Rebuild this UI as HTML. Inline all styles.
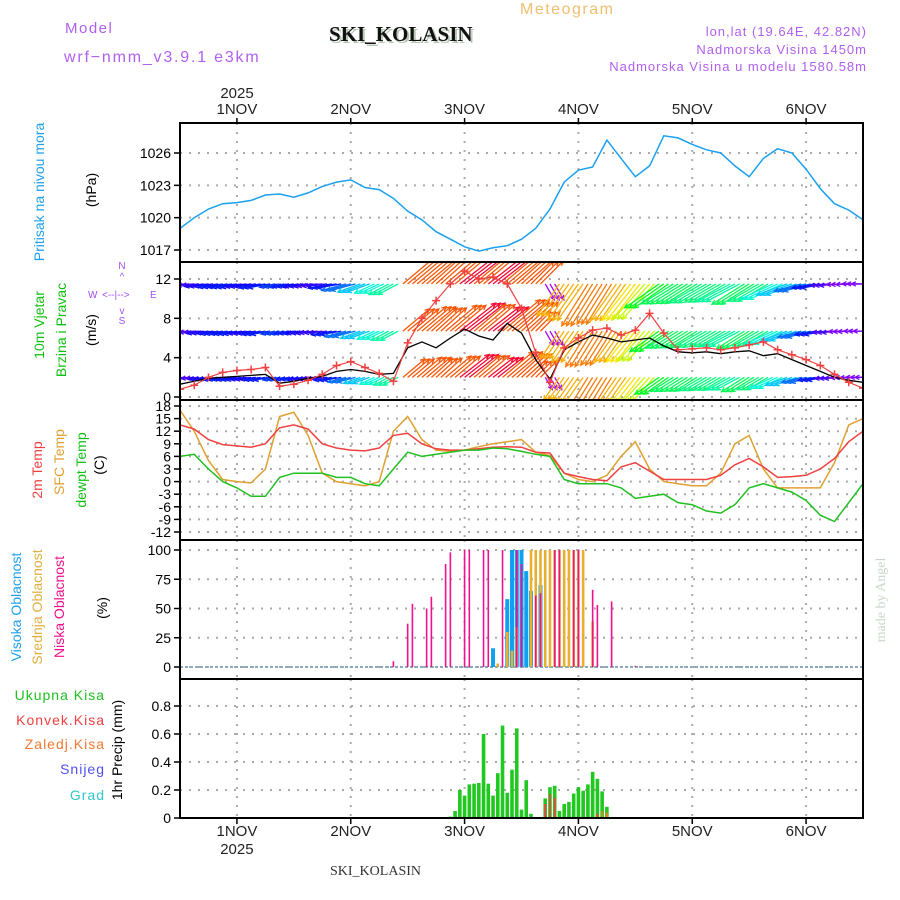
<!DOCTYPE html>
<html><head><meta charset="utf-8"><style>
body{margin:0;background:#fff}
svg{display:block}
text{font-family:"Liberation Sans",sans-serif}
text.serif{font-family:"Liberation Serif",serif}
</style></head><body>
<svg id="chart" width="900" height="900" viewBox="0 0 900 900" xmlns="http://www.w3.org/2000/svg">
<text x="65" y="33" font-size="15" fill="#b060f0" letter-spacing="1.5">Model</text>
<text x="64" y="62" font-size="16" fill="#b060f0" letter-spacing="1.8">wrf−nmm_v3.9.1 e3km</text>
<text class="serif" x="331" y="43" font-size="21" font-weight="bold" fill="#b8c8b8">SKI_KOLASIN</text>
<text class="serif" x="329" y="41" font-size="21" font-weight="bold" fill="#111">SKI_KOLASIN</text>
<text x="520" y="14" font-size="16" fill="#f0c070" letter-spacing="1.5">Meteogram</text>
<text x="867" y="36" font-size="13" fill="#b060f0" text-anchor="end" letter-spacing="1">lon,lat (19.64E, 42.82N)</text>
<text x="867" y="54" font-size="13" fill="#b060f0" text-anchor="end" letter-spacing="1">Nadmorska Visina 1450m</text>
<text x="867" y="71" font-size="13" fill="#b060f0" text-anchor="end" letter-spacing="1">Nadmorska Visina u modelu 1580.58m</text>
<text x="237" y="98" font-size="15" fill="#222" text-anchor="middle">2025</text>
<text class="serif" x="330" y="875" font-size="14" fill="#333">SKI_KOLASIN</text>
<text class="serif" transform="translate(885,600) rotate(-90)" font-size="14" fill="#c8d8c8" text-anchor="middle">made by Angel</text>

<g font-size="14">
<text transform="translate(44,192) rotate(-90)" fill="#20a0f0" text-anchor="middle">Pritisak na nivou mora</text>
<text transform="translate(96,190) rotate(-90)" fill="#000" text-anchor="middle">(hPa)</text>
<text transform="translate(44,325) rotate(-90)" fill="#10c010" text-anchor="middle">10m Vjetar</text>
<text transform="translate(66,330) rotate(-90)" fill="#10c010" text-anchor="middle">Brzina i Pravac</text>
<text transform="translate(96,330) rotate(-90)" fill="#000" text-anchor="middle">(m/s)</text>
<text transform="translate(42,470) rotate(-90)" fill="#f04040" text-anchor="middle">2m Temp</text>
<text transform="translate(64,462) rotate(-90)" fill="#e0a030" text-anchor="middle">SFC Temp</text>
<text transform="translate(86,470) rotate(-90)" fill="#10c010" text-anchor="middle">dewpt Temp</text>
<text transform="translate(104,465) rotate(-90)" fill="#000" text-anchor="middle">(C)</text>
<text transform="translate(21,607) rotate(-90)" fill="#20a0f0" text-anchor="middle">Visoka Oblacnost</text>
<text transform="translate(42,607) rotate(-90)" fill="#e0b040" text-anchor="middle">Srednja Oblacnost</text>
<text transform="translate(64,607) rotate(-90)" fill="#f0108a" text-anchor="middle">Niska Oblacnost</text>
<text transform="translate(107,608) rotate(-90)" fill="#000" text-anchor="middle">(%)</text>
<text x="105" y="700" fill="#20c020" text-anchor="end" letter-spacing="1">Ukupna Kisa</text>
<text x="105" y="725" fill="#f04040" text-anchor="end" letter-spacing="1">Konvek.Kisa</text>
<text x="105" y="749" fill="#f07830" text-anchor="end" letter-spacing="1">Zaledj.Kisa</text>
<text x="105" y="774" fill="#5050f0" text-anchor="end" letter-spacing="1">Snijeg</text>
<text x="105" y="800" fill="#30c8c8" text-anchor="end" letter-spacing="1">Grad</text>
<text transform="translate(122,750) rotate(-90)" fill="#000" text-anchor="middle">1hr Precip (mm)</text>
</g>
<g fill="#a050f0" font-size="10">
<text x="122" y="269" text-anchor="middle">N</text>
<text x="122" y="280" text-anchor="middle">^</text>
<text x="88" y="298">W</text>
<text x="102" y="298">&lt;--|--&gt;</text>
<text x="150" y="298">E</text>
<text x="122" y="314" text-anchor="middle">v</text>
<text x="122" y="324" text-anchor="middle">S</text>
</g>
<g id="plot"></g>
</svg>
<script>
// time axis: hours from 31 Oct 12Z, 3-hourly samples
const stepHours = 3;
const dayLabels = ["1NOV","2NOV","3NOV","4NOV","5NOV","6NOV"];
const pressure = [1019,1020,1020.8,1021.3,1021.4,1021.6,1022.1,1022.2,1021.9,1022.3,1022.9,1023.3,1023.5,1022.8,1022.6,1021.8,1020.6,1019.8,1018.7,1018.0,1017.3,1016.9,1017.2,1017.4,1018.0,1019.0,1020.8,1023.3,1024.4,1024.7,1027.2,1025.5,1023.8,1024.8,1027.6,1027.4,1026.8,1026.3,1026.0,1024.8,1023.8,1025.5,1026.4,1026.0,1024.5,1022.7,1021.3,1020.7,1019.8];
const windSpeed = [1.3,1.6,1.9,2.0,2.1,2.2,2.3,1.4,1.6,1.9,2.1,2.6,2.8,2.6,2.3,2.4,5.0,5.6,5.0,6.0,6.9,6.2,5.8,7.5,6.5,3.8,1.8,4.8,5.6,6.3,6.0,5.6,5.8,6.0,5.2,4.6,4.5,4.6,4.4,4.6,4.7,4.2,4.4,3.8,3.2,2.6,2.0,1.7,1.5];
const windGust = [0.8,1.2,2.0,2.5,2.7,2.8,3.0,1.1,1.3,1.7,2.3,3.2,3.6,3.0,2.4,1.6,5.5,8.0,9.8,11.5,12.8,12.0,12.2,11.5,9.0,4.5,1.5,5.0,6.0,6.8,7.0,6.3,6.8,8.5,6.5,4.8,4.9,5.0,4.8,5.0,5.3,5.6,4.8,4.3,3.8,3.2,2.3,1.5,0.9];
const windDir = [185,185,188,190,190,188,190,192,190,188,186,190,195,200,205,208,40,40,42,40,38,40,38,40,42,45,300,235,235,238,238,235,232,228,215,212,212,210,210,208,212,210,205,200,195,190,185,182,180];
const temp2m = [13.5,12.5,10,8.8,8.5,8.2,9,12.8,13.5,12.5,9,8,7.5,7.3,8,11,11.5,9,7.8,7.5,7.5,7.8,8.2,8.3,8.2,7,6.8,2,1.2,0.5,0.2,3.5,4.5,2.5,0.5,0.5,0.5,0.5,1.5,4,5.5,3.5,1,1.2,1.5,3,5.5,9.5,12];
const tempSfc = [17,12,5,0.5,0,-0.3,3,15.5,16.5,11,2,0,-0.5,-1,0,12,15.5,10,7.5,7.2,7.5,8.3,9,9.5,10,7,6.2,2,0.5,0,1.5,6,9.5,3,0,-0.5,-1,-1,2,9,11,3,-1.5,-1.5,-1.5,-1.5,4.5,13.5,15];
const dewpoint = [6,6.5,3,0,-1.5,-3.5,-3.5,1,2,2,2,1,1,-0.5,-1,3,7,6,6.5,7,7.5,7.5,8,7.8,7.2,6.5,6,0.5,-0.5,-0.5,-0.5,-1.5,-4,-3.5,-3,-5,-5.5,-7,-7.5,-5.5,-1.5,-0.5,-1.5,-2.5,-4.5,-8,-9.5,-5,-0.5];
const lowCloudHours = [45,48,49,52,53,56,57,60,61,64,65,68,71,72,75,76,79,80,83,84,87,88,91,96];
const lowCloudVals = [5,37,54,50,60,88,98,100,100,100,100,100,100,88,61,63,100,100,100,100,66,53,56,1];
const midCloudHours = [67,69,70,71,74,75,76,77,78,79,80,81,82,83,84,85,87];
const midCloudVals = [3,30,14,34,100,100,100,100,100,100,100,100,100,100,100,100,39];
const highCloudHours = [66,69,70,71,72,73,74,76];
const highCloudVals = [16,58,100,100,100,82,65,70];
const rainHours = [57,58,59,60,61,62,63,64,65,66,67,68,69,70,71,72,73,74,77,78,79,80,81,82,83,84,85,86,87,88,89,90];
const rainVals = [0.01,0.05,0.20,0.16,0.24,0.245,0.25,0.60,0.245,0.16,0.32,0.66,0.18,0.345,0.64,0.06,0.27,0.03,0.14,0.22,0.23,0.05,0.10,0.115,0.175,0.22,0.195,0.24,0.33,0.28,0.19,0.08];
const convHours = [77,78,79,88];
const convVals = [0.10,0.17,0.145,0.03];
const frzHours = [89,90];
const frzVals = [0.05,0.04];
const pressTicks = [1017,1020,1023,1026];
const windTicks = [0,4,8,12];
const tempTicks = [-12,-9,-6,-3,0,3,6,9,12,15,18];
const cloudTicks = [0,25,50,75,100];
const precipTicks = [0,0.2,0.4,0.6,0.8];
const windBands = [2.0,6.7,11.5];

const NS="http://www.w3.org/2000/svg";
const plot=document.getElementById('plot');
const X0=180,X1=863,H=144;
const xh=h=>X0+h*(X1-X0)/H;
function lin(v0,y0,v1,y1){return v=>y0+(v-v0)*(y1-y0)/(v1-v0);}
const yP=lin(1017,250,1026,153);
const yW=lin(0,397,12,279);
const yT=lin(18,406,-12,532);
const yC=lin(0,667,100,550);
const yR=lin(0,818,0.8,706);
const panels=[[123,262,'pressure-panel'],[262,400,'wind-panel'],[400,540,'temperature-panel'],[540,679,'cloud-panel'],[679,818,'precip-panel']];
function el(tag,attrs,parent){const e=document.createElementNS(NS,tag);for(const k in attrs)e.setAttribute(k,attrs[k]);(parent||plot).appendChild(e);return e;}

const defs=el('defs',{});
panels.forEach((p,i)=>{const c=el('clipPath',{id:'clip'+i},defs);el('rect',{x:X0,y:p[0],width:X1-X0,height:p[1]-p[0]},c);});

panels.forEach((p,i)=>{
  for(let d=0;d<6;d++){const x=xh(12+24*d);
    const g=el('line',{x1:x,y1:p[0],x2:x,y2:p[1],stroke:'#aaa','stroke-width':2,'stroke-dasharray':'2,7'});
    
    }
});
function yaxis(ticks,fy,fmt,pi){
  ticks.forEach(t=>{const y=fy(t);
    const g=el('line',{x1:X0,y1:y,x2:X1,y2:y,stroke:'#aaa','stroke-width':2,'stroke-dasharray':'2,7'});
    
    
    el('line',{x1:X0-6,y1:y,x2:X0,y2:y,stroke:'#000','stroke-width':1.5});
    const tx=el('text',{x:X0-9,y:y+5,'font-size':14,'text-anchor':'end',fill:'#000'});
    tx.textContent=fmt(t);
    
    
  });
}
yaxis(pressTicks,yP,t=>t,0);
yaxis(windTicks,yW,t=>t,1);
yaxis(tempTicks,yT,t=>t,2);
yaxis(cloudTicks,yC,t=>t,3);
yaxis(precipTicks,yR,t=>t===0?'0':t.toFixed(1),4);

function line(arr,fy,color,ci,name,w){
  const pts=arr.map((v,i)=>xh(i*stepHours).toFixed(1)+','+fy(v).toFixed(1)).join(' ');
  const p=el('polyline',{points:pts,fill:'none',stroke:color,'stroke-width':w||1.5,'clip-path':'url(#clip'+ci+')'});
  
  
  return p;
}
line(pressure,yP,'#1aa0f0',0,'pressure-line');

function hueFor(a){
  if(a<120) return (a<40?350:20);
  if(a>=270) return 280;
  return Math.max(20,Math.min(270,270-(a-182)*4.3));
}
windBands.forEach((b,bi)=>{
  windSpeed.forEach((s,i)=>{
    const a=windDir[i]*Math.PI/180;
    const L=s*(4.5+bi*1.2)+6;
    const x0=xh(i*stepHours),y0=yW(b);
    const x1=x0+L*Math.cos(a),y1=y0-L*Math.sin(a);
    const col='hsl('+hueFor(windDir[i])+',95%,50%)';
    const g=el('g',{'clip-path':'url(#clip1)',stroke:col,'stroke-width':1.3,fill:'none'});
    
    
    for(let k=-1;k<=1;k++){
      const dx=k*4.7;
      el('line',{x1:x0+dx,y1:y0,x2:x1+dx,y2:y1},g);
      const ha=0.45,hl=5;
      el('polyline',{points:[(x1+dx-hl*Math.cos(a-ha))+','+(y1+hl*Math.sin(a-ha)),(x1+dx)+','+y1,(x1+dx-hl*Math.cos(a+ha))+','+(y1+hl*Math.sin(a+ha))].join(' ')},g);
    }
  });
});
line(windSpeed,yW,'#000',1,'wind-speed-line',1.3);
line(windGust,yW,'#f04040',1,'wind-gust-line',1.2);
windGust.forEach((v,i)=>{
  const x=xh(i*stepHours),y=yW(v);
  const g=el('path',{d:`M${x-4},${y}h8M${x},${y-4}v8`,stroke:'#f04040','stroke-width':1.5,'clip-path':'url(#clip1)'});
  
  
});

line(tempSfc,yT,'#e0a030',2,'sfc-temp-line');
line(temp2m,yT,'#f04040',2,'temp-2m-line');
line(dewpoint,yT,'#20c020',2,'dewpoint-line');

el('line',{x1:X0,y1:yC(0),x2:X1,y2:yC(0),stroke:'#8ab','stroke-width':2,'stroke-dasharray':'3,2'});
function bars(hours,vals,fy,color,w,name,ci){
  hours.forEach((h,i)=>{
    const x=xh(h),y=fy(vals[i]),y0=fy(0);
    const r=el('rect',{x:x-w/2,y:y,width:w,height:Math.max(0,y0-y),fill:color,'clip-path':'url(#clip'+ci+')'});
    
    
  });
}
bars(highCloudHours,highCloudVals,yC,'#10a0f0',4,'high-cloud-bar',3);
bars(midCloudHours,midCloudVals,yC,'#e8b030',2.6,'mid-cloud-bar',3);
bars(lowCloudHours,lowCloudVals,yC,'#f01090',1.6,'low-cloud-bar',3);

bars(rainHours,rainVals,yR,'#20c820',3.6,'rain-bar',4);
bars(convHours,convVals,yR,'#f04040',1.8,'convective-rain-bar',4);
bars(frzHours,frzVals,yR,'#f08020',1.8,'freezing-rain-bar',4);

panels.forEach((p,i)=>{
  const r=el('rect',{x:X0,y:p[0],width:X1-X0,height:p[1]-p[0],fill:'none',stroke:'#000','stroke-width':2});
  
  
});
dayLabels.forEach((d,i)=>{
  const x=xh(12+24*i);
  const t=el('text',{x:x,y:114,'font-size':15,'text-anchor':'middle',fill:'#222'});
  t.textContent=d;
  
  
  const b=el('text',{x:x,y:836,'font-size':15,'text-anchor':'middle',fill:'#222'});
  b.textContent=d;
  
  
  el('line',{x1:x,y1:118,x2:x,y2:123,stroke:'#000','stroke-width':1.5});
  el('line',{x1:x,y1:818,x2:x,y2:824,stroke:'#000','stroke-width':1.5});
});
const yb=el('text',{x:xh(12),y:854,'font-size':15,'text-anchor':'middle',fill:'#222'});
yb.textContent='2025';


</script>
</body></html>
